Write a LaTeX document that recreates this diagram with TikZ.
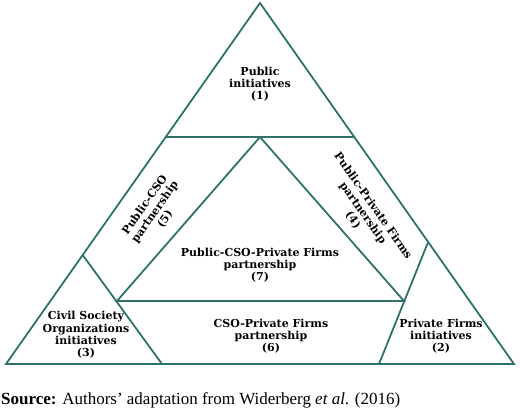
\documentclass[tikz,border=0pt]{standalone}
\usepackage{fontspec}
\setmainfont{Liberation Serif}
\newfontfamily\regionfont{DejaVu Serif}
\usetikzlibrary{calc}
\definecolor{edgeteal}{RGB}{46,114,104}

\begin{document}
\begin{tikzpicture}[x=1pt, y=-1pt,
    edge/.style={draw=edgeteal, line width=1.8pt, line join=miter},
    region/.style={font=\regionfont\bfseries\fontsize{11}{12.3}\selectfont, align=center, inner sep=0pt}]

    \useasboundingbox (0,0) rectangle (520,408);

    % outer triangle
    \coordinate (top) at (260,3);
    \coordinate (bl) at (6,364);
    \coordinate (br) at (514,364);

    % cuts on the outer sides
    \coordinate (h1) at ($(top)!0.371!(bl)$);
    \coordinate (h2) at ($(top)!0.371!(br)$);
    \coordinate (cso) at ($(top)!0.698!(bl)$);
    \coordinate (csofoot) at (162,364);
    \coordinate (pf) at ($(top)!0.662!(br)$);
    \coordinate (pffoot) at (379,364);

    % inner triangle
    \coordinate (itop) at (260,137);
    \coordinate (ibl) at (117,301);
    \coordinate (ibr) at (404,301);

    \draw[edge] (top) -- (bl) -- (br) -- cycle;
    \draw[edge] (h1) -- (h2);
    \draw[edge] (cso) -- (csofoot);
    \draw[edge] (pf) -- (pffoot);
    \draw[edge] (itop) -- (ibl) -- (ibr) -- cycle;

    \node[region] (public) at (260,84) {Public\\initiatives\\(1)};
    \node[region] (private) at (441,336) {Private Firms\\initiatives\\(2)};
    \node[region] (civil) at (86,335) {Civil Society\\Organizations\\initiatives\\(3)};
    \node[region, rotate=-55] (pubpriv) at (363,213) {Public-Private Firms\\partnership\\(4)};
    \node[region, rotate=55] (pubcso) at (155,212) {Public-CSO\\partnership\\(5)};
    \node[region] (csopriv) at (271,336) {CSO-Private Firms\\partnership\\(6)};
    \node[region] (all) at (260,265) {Public-CSO-Private Firms\\partnership\\(7)};

    \node[anchor=base west, inner sep=0pt, font=\fontsize{17}{20}\selectfont] (source) at (1,404)
        {\textbf{Source:} Authors’ adaptation from Widerberg \textit{et al}. (2016)};

\end{tikzpicture}
\end{document}
